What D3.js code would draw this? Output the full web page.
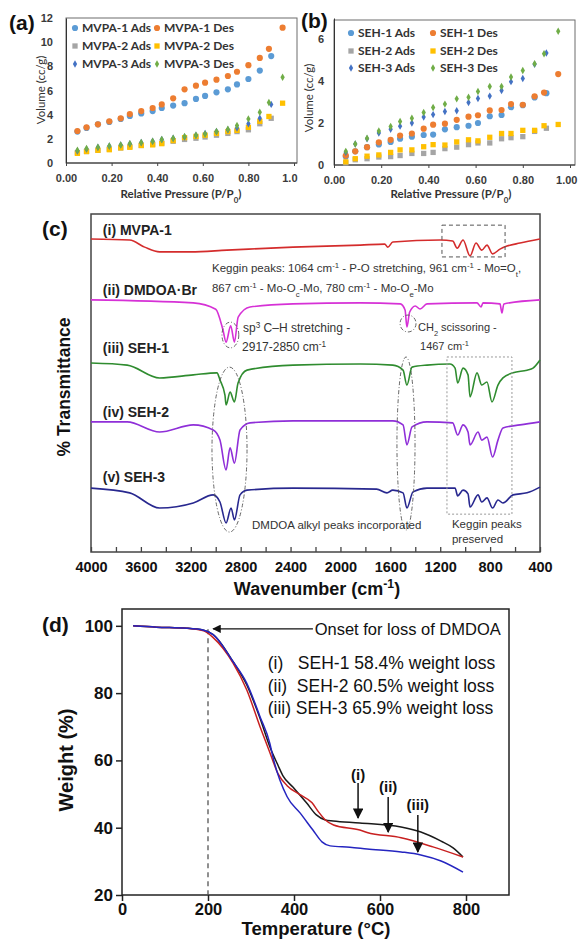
<!DOCTYPE html>
<html>
<head>
<meta charset="utf-8">
<script src="https://cdn.jsdelivr.net/npm/d3@7"></script>
<style>
body { margin: 0; background: #fff; }
svg { display: block; }
</style>
</head>
<body>
<script>
const width = 578;
const height = 940;

// ---------- (a) / (b) N2 isotherms : relative pressure vs volume (cc/g)
const adsPressure = [0.05,0.09,0.14,0.19,0.24,0.28,0.33,0.38,0.42,0.47,0.52,0.57,0.61,0.66,0.71,0.75,0.80,0.85,0.90];
const desPressure = [0.05,0.09,0.14,0.19,0.24,0.28,0.33,0.38,0.42,0.47,0.52,0.57,0.61,0.66,0.71,0.75,0.80,0.85,0.89,0.95];

const mvpa1Ads = [2.6,2.9,3.2,3.4,3.65,3.9,4.1,4.3,4.55,4.75,4.95,5.3,5.55,5.85,6.1,6.5,6.95,7.65,8.85];
const mvpa1Des = [2.65,2.95,3.2,3.45,3.7,4.05,4.3,4.55,4.85,5.35,6.1,6.4,6.65,6.9,7.2,7.55,8.1,8.7,9.45,11.2];
const mvpa2Ads = [0.85,0.95,1.05,1.15,1.25,1.35,1.45,1.55,1.65,1.8,1.95,2.05,2.15,2.3,2.45,2.6,2.75,3.25,3.7];
const mvpa2Des = [0.8,0.95,1.05,1.1,1.25,1.3,1.45,1.5,1.6,1.85,2.1,2.2,2.3,2.45,2.6,2.7,2.95,3.45,3.85,4.95];
const mvpa3Ads = [1.0,1.15,1.3,1.4,1.5,1.6,1.7,1.8,1.95,2.05,2.15,2.3,2.45,2.6,2.75,2.9,3.25,3.7,4.85];
const mvpa3Des = [1.05,1.2,1.3,1.4,1.5,1.6,1.7,1.8,1.95,2.05,2.2,2.3,2.4,2.6,2.8,3.1,3.65,4.2,5.0,7.1];

const seh1Ads = [0.4,0.65,0.85,0.98,1.1,1.25,1.35,1.43,1.45,1.7,1.8,1.87,2.0,2.32,2.38,2.75,2.85,3.22,3.42];
const seh1Des = [0.45,0.65,0.85,1.08,1.2,1.4,1.5,1.73,1.92,1.97,2.15,2.3,2.37,2.6,2.62,2.9,2.87,3.27,3.45,4.33];
const seh2Ads = [0.1,0.25,0.3,0.38,0.4,0.45,0.55,0.55,0.6,0.78,0.85,0.97,1.05,1.05,1.25,1.3,1.35,1.6,1.75];
const seh2Des = [0.15,0.3,0.42,0.48,0.6,0.72,0.72,0.87,0.97,0.95,1.1,1.2,1.15,1.32,1.5,1.5,1.65,1.65,1.87,1.93];
const seh3Ads = [0.6,1.0,1.25,1.52,1.7,1.85,2.0,2.28,2.4,2.55,2.58,2.98,3.17,3.28,3.55,3.97,4.12,4.8,5.33];
const seh3Des = [0.65,1.0,1.27,1.62,1.83,2.07,2.23,2.5,2.74,2.9,3.15,3.23,3.5,3.74,3.74,4.19,4.5,4.82,5.3,6.37];

const mvpaNames = ["MVPA-1 Ads","MVPA-1 Des","MVPA-2 Ads","MVPA-2 Des","MVPA-3 Ads","MVPA-3 Des"];
const sehNames = ["SEH-1 Ads","SEH-1 Des","SEH-2 Ads","SEH-2 Des","SEH-3 Ads","SEH-3 Des"];

const isoXTicks = [0,0.2,0.4,0.6,0.8,1.0];
const aXTickLabels = ["0.00","0.20","0.40","0.60","0.80","1.0"];
const bXTickLabels = ["0.00","0.20","0.40","0.60","0.80","1.00"];
const aYTicks = [0,2,4,6,8,10,12];
const bYTicks = [0,2,4,6];

// ---------- (c) FTIR spectra : [wavenumber, offset transmittance]
const irMvpa1 = [[4000,92.6],[3690,92.3],[3570,90.2],[3450,88.8],[3200,88.8],[2910,89.3],[2380,90.2],[1840,90.8],[1645,91.1],[1620,90.2],[1580,91.7],[1200,92.3],[1100,92.0],[1064,89.9],[1017,92.3],[961,87.6],[913,91.4],[867,89.3],[825,90.8],[780,88.2],[721,89.6],[665,90.5],[560,91.4],[400,92.6]];
const irDmdoa = [[4000,74.6],[3180,73.7],[3000,71.8],[2942,65.7],[2917,62.1],[2880,66.9],[2850,62.1],[2820,69.5],[2725,72.5],[2380,73.4],[1840,73.7],[1520,73.4],[1482,71.6],[1467,66.6],[1445,71.0],[1400,72.8],[1362,71.9],[1306,73.4],[905,73.7],[873,72.5],[857,73.7],[721,73.4],[705,70.7],[690,73.4],[400,74.6]];
const irSeh1 = [[4000,55.9],[3710,55.3],[3450,51.5],[3180,52.4],[2990,53.0],[2966,50.9],[2926,46.4],[2917,43.5],[2885,47.3],[2850,44.4],[2821,50.0],[2749,53.8],[2380,55.3],[1840,55.6],[1580,55.3],[1498,53.8],[1467,49.4],[1426,54.7],[1306,55.3],[1122,55.6],[1081,54.4],[1060,50.0],[1017,54.4],[977,52.4],[961,45.9],[905,53.0],[867,49.4],[825,50.3],[785,44.4],[737,49.4],[697,51.5],[616,53.0],[504,53.8],[456,54.4],[400,56.8]];
const irSeh2 = [[4000,38.5],[3710,38.5],[3450,35.5],[3180,37.6],[3020,36.1],[2966,33.1],[2917,24.3],[2885,30.8],[2850,26.3],[2805,36.1],[2725,38.2],[2380,38.8],[1580,38.8],[1498,37.6],[1467,31.7],[1426,37.0],[1306,38.5],[1100,38.2],[1060,34.6],[1017,37.6],[977,35.5],[961,31.7],[897,35.5],[867,33.1],[825,34.0],[780,28.1],[737,33.1],[697,36.7],[560,37.6],[400,38.5]];
const irSeh3 = [[4000,18.9],[3690,17.5],[3450,13.0],[3180,14.5],[3020,16.9],[2966,14.8],[2917,8.6],[2877,13.0],[2850,9.5],[2805,16.9],[2749,18.3],[2380,18.9],[1710,18.6],[1627,17.5],[1580,18.3],[1498,17.5],[1467,13.0],[1418,17.8],[1306,18.9],[1081,18.9],[1060,16.6],[1017,18.3],[977,17.2],[961,13.3],[897,16.9],[867,14.8],[825,16.0],[780,13.0],[737,15.4],[697,14.5],[616,16.9],[504,17.5],[400,19.2]];
const irLabels = ["(i) MVPA-1","(ii) DMDOA\u00B7Br","(iii) SEH-1","(iv) SEH-2","(v) SEH-3"];
const irMajorTicks = [4000,3600,3200,2800,2400,2000,1600,1200,800,400];
const irMinorTicks = [3800,3400,3000,2600,2200,1800,1400,1000,600];

// ---------- (d) TGA : [temperature C, weight %]
const tgaSeh1 = [[26,100],[80,99.6],[150,99.3],[190,98.7],[212,97.4],[258,89.4],[290,82.5],[321,72.5],[344,64],[363,58.5],[374,55.5],[398,52],[429,47.4],[452,43.8],[473,42.3],[491,42],[553,41.4],[649,40.2],[695,38.7],[742,36],[770,34],[793,31.3]];
const tgaSeh2 = [[26,100],[80,99.6],[150,99.3],[190,98.5],[212,96.5],[258,89],[290,81],[321,70],[344,62.3],[363,56],[384,52.5],[414,49.8],[442,47.4],[457,44.7],[473,42.3],[492,40.8],[553,39.3],[570,38.6],[649,37],[723,34.3],[793,31.3]];
const tgaSeh3 = [[26,100],[80,99.6],[150,99.3],[190,98.7],[212,97.4],[258,89.4],[290,83],[321,73],[344,65],[351,61],[384,49.2],[414,44.4],[444,39.3],[465,35.8],[484,34.6],[530,34.2],[570,33.7],[649,32.8],[695,31.9],[742,30.1],[793,26.8]];
const tgaXTicks = [0,200,400,600,800];
const tgaYTicks = [20,40,60,80,100];
const tgaLegend = [["(i)","SEH-1 58.4% weight loss"],["(ii)","SEH-2 60.5% weight loss"],["(iii)","SEH-3 65.9% weight loss"]];

const svg = d3.select("body").append("svg")
  .attr("width", width)
  .attr("height", height)
  .style("font-family", "'Liberation Sans', Arial, sans-serif");

// text with super / subscripts: parts = [[text, "sup"|"sub"|undefined], ...]
function richText(sel, parts) {
  parts.forEach(p => {
    const t = sel.append("tspan").text(p[0]);
    if (p[1] == "sup") t.attr("baseline-shift", "super").attr("font-size", "68%");
    if (p[1] == "sub") t.attr("baseline-shift", "sub").attr("font-size", "68%");
  });
  return sel;
}

function panelLabel(txt, x, y) {
  svg.append("text").attr("x", x).attr("y", y)
    .attr("font-size", 21).attr("font-weight", "bold").attr("fill", "#111").text(txt);
}

// ===================== isotherm panels
function drawIsotherm(o) {
  const g = svg.append("g").style("font-family", "Lato, 'Open Sans', sans-serif");
  const x = d3.scaleLinear().domain([0, 1]).range([o.left, o.xEnd]);
  const y = d3.scaleLinear().domain([0, o.yMax]).range([o.bottom, o.yTop]);

  g.append("rect")
    .attr("x", o.left).attr("y", o.top)
    .attr("width", o.right - o.left).attr("height", o.bottom - o.top)
    .attr("fill", "none").attr("stroke", "#6d6d6d").attr("stroke-width", 1);

  const yAx = g.append("g").attr("transform", `translate(${o.left},0)`)
    .call(d3.axisLeft(y).tickValues(o.yTicks).tickSize(0).tickPadding(o.yPad).tickFormat(d3.format("d")));
  yAx.select(".domain").attr("stroke", "#333");
  yAx.selectAll("text").attr("font-size", 11).attr("font-weight", "bold").attr("fill", "#3a3a3a");

  const xAx = g.append("g").attr("transform", `translate(0,${o.bottom})`)
    .call(d3.axisBottom(x).tickValues(isoXTicks).tickSizeInner(3).tickSizeOuter(0).tickPadding(8)
      .tickFormat((d, i) => o.xLabels[i]));
  xAx.select(".domain").attr("stroke", "#333").attr("d", `M${o.left},0H${o.right}`);
  xAx.selectAll("line").attr("stroke", "#444");
  xAx.selectAll("text").attr("font-size", 11).attr("font-weight", "bold").attr("fill", "#3a3a3a");
  xAx.selectAll("text").filter((d, i) => i == isoXTicks.length - 1).attr("text-anchor", "end").attr("dx", o.lastDx);

  o.series.forEach(s => {
    g.append("g").selectAll("path")
      .data(d3.zip(s.p, s.v))
      .join("path")
        .attr("d", d3.symbol(s.shape, s.size))
        .attr("transform", d => `translate(${x(d[0])},${y(d[1])})`)
        .attr("fill", s.color);
  });

  // legend, two columns
  o.series.forEach((s, i) => {
    const lx = o.legendX[i % 2];
    const ly = o.legendY[Math.floor(i / 2)];
    g.append("path").attr("d", d3.symbol(s.shape, s.size)).attr("transform", `translate(${lx},${ly})`).attr("fill", s.color);
    g.append("text").attr("x", lx + 7).attr("y", ly).attr("dy", "0.35em")
      .attr("font-size", 12).attr("font-weight", "bold").attr("fill", "#333").text(o.names[i]);
  });

  g.append("text")
    .attr("transform", `translate(${o.yTitleX},${o.yTitleY}) rotate(-90)`)
    .attr("text-anchor", "middle").attr("font-size", 11.5).attr("fill", "#333")
    .text("Volume (cc/g)");

  const xt = g.append("text").attr("x", o.xTitleX).attr("y", 198)
    .attr("text-anchor", "middle").attr("font-size", 11.5).attr("font-weight", "bold").attr("fill", "#333");
  richText(xt, [["Relative Pressure (P/P"], ["0", "sub"], [")"]]);
}

const circle = d3.symbolCircle, square = d3.symbolSquare, diamond = d3.symbolDiamond;
const isoColors = ["#5b9bd5","#ed7d31","#a5a5a5","#ffc000","#4472c4","#70ad47"];
const isoShapes = [[circle, 30],[circle, 30],[square, 28],[square, 28],[diamond, 16],[diamond, 16]];

function isoSeries(ads1, des1, ads2, des2, ads3, des3) {
  const vals = [ads1, des1, ads2, des2, ads3, des3];
  return vals.map((v, i) => ({
    p: i % 2 == 0 ? adsPressure : desPressure,
    v: v, color: isoColors[i], shape: isoShapes[i][0], size: isoShapes[i][1]
  }));
}

drawIsotherm({
  left: 66, right: 297, xEnd: 294, top: 18, yTop: 18, bottom: 163, yMax: 12,
  yTicks: aYTicks, yPad: 13, xLabels: aXTickLabels, lastDx: 3,
  series: isoSeries(mvpa1Ads, mvpa1Des, mvpa2Ads, mvpa2Des, mvpa3Ads, mvpa3Des),
  names: mvpaNames, legendX: [75, 157], legendY: [28, 46, 64],
  yTitleX: 45, yTitleY: 90, xTitleX: 181
});
drawIsotherm({
  left: 334, right: 575, xEnd: 570, top: 20, yTop: 18, bottom: 165, yMax: 7,
  yTicks: bYTicks, yPad: 10, xLabels: bXTickLabels, lastDx: 7,
  series: isoSeries(seh1Ads, seh1Des, seh2Ads, seh2Des, seh3Ads, seh3Des),
  names: sehNames, legendX: [351, 433], legendY: [33, 51, 68],
  yTitleX: 313, yTitleY: 98, xTitleX: 451
});
panelLabel("(a)", 9, 30);
panelLabel("(b)", 301, 28);

// ===================== (c) FTIR
const xc = d3.scaleLinear().domain([4000, 400]).range([91, 540]);
const yc = d3.scaleLinear().domain([0, 100]).range([552, 214]);
const gc = svg.append("g");

gc.append("rect").attr("x", 91).attr("y", 214).attr("width", 449).attr("height", 338)
  .attr("fill", "none").attr("stroke", "#444").attr("stroke-width", 1.5);

const xcAx = gc.append("g").attr("transform", "translate(0,552)")
  .call(d3.axisBottom(xc).tickValues(irMajorTicks.concat(irMinorTicks))
    .tickSizeInner(-5).tickSizeOuter(0).tickPadding(10)
    .tickFormat(d => irMajorTicks.includes(d) ? d : ""));
xcAx.select(".domain").remove();
xcAx.selectAll("line").attr("stroke", "#444").attr("stroke-width", 1.3);
xcAx.selectAll("text").attr("font-size", 14.5).attr("font-weight", "bold").attr("fill", "#111")
  .attr("font-family", "'Liberation Sans', Arial, sans-serif");

const irLine = d3.line().x(d => xc(d[0])).y(d => yc(d[1])).curve(d3.curveMonotoneX);
const irSeries = [irMvpa1, irDmdoa, irSeh1, irSeh2, irSeh3];
const irColors = ["#d42c2c", "#d631d6", "#2f8c2f", "#8f2fd8", "#28288f"];
gc.append("g").selectAll("path")
  .data(irSeries)
  .join("path")
    .attr("d", irLine)
    .attr("fill", "none")
    .attr("stroke", (d, i) => irColors[i])
    .attr("stroke-width", 1.6);

const irLabelLevel = [93.8, 76.0, 58.9, 39.9, 20.7];
gc.append("g").selectAll("text")
  .data(irLabels)
  .join("text")
    .attr("x", xc(3905))
    .attr("y", (d, i) => yc(irLabelLevel[i]))
    .attr("font-size", 14).attr("font-weight", "bold").attr("fill", "#222")
    .text(d => d);

// annotation boxes and ellipses (wavenumber / transmittance bounds)
function annRect(w1, w2, v1, v2, dash, color) {
  gc.append("rect")
    .attr("x", xc(w1)).attr("y", yc(v1))
    .attr("width", xc(w2) - xc(w1)).attr("height", yc(v2) - yc(v1))
    .attr("fill", "none").attr("stroke", color).attr("stroke-width", 1).attr("stroke-dasharray", dash);
}
function annEllipse(w1, w2, v1, v2) {
  gc.append("ellipse")
    .attr("cx", (xc(w1) + xc(w2)) / 2).attr("cy", (yc(v1) + yc(v2)) / 2)
    .attr("rx", Math.abs(xc(w2) - xc(w1)) / 2).attr("ry", Math.abs(yc(v2) - yc(v1)) / 2)
    .attr("fill", "none").attr("stroke", "#555").attr("stroke-width", 0.9).attr("stroke-dasharray", "4,2,1,2");
}
annRect(1186, 680, 96.7, 87.3, "4,3", "#555");
annRect(1146, 625, 57.7, 11.2, "2,2", "#999");
annEllipse(2950, 2815, 68.0, 60.4);
annEllipse(1522, 1394, 70.1, 65.1);
annEllipse(3030, 2749, 54.7, 5.9);
annEllipse(1547, 1402, 57.7, 6.5);

function annText(w, v, parts, size) {
  const t = gc.append("text").attr("x", xc(w)).attr("y", yc(v))
    .attr("font-size", size || 11.5).attr("fill", "#333");
  return richText(t, parts);
}
annText(3030, 82.8, [["Keggin peaks: 1064 cm"], ["-1", "sup"], [" - P-O stretching, 961 cm"], ["-1", "sup"], [" - Mo=O"], ["t", "sub"], [","]]);
annText(3030, 76.9, [["867 cm"], ["-1", "sup"], [" - Mo-O"], ["c", "sub"], ["-Mo, 780 cm"], ["-1", "sup"], [" - Mo-O"], ["e", "sub"], ["-Mo"]]);
annText(2781, 65.1, [["sp"], ["3", "sup"], [" C\u2013H stretching -"]], 12);
annText(2789, 59.5, [["2917-2850 cm"], ["-1", "sup"]], 12);
annText(1378, 65.4, [["CH"], ["2", "sub"], [" scissoring -"]], 11);
annText(1362, 59.8, [["1467 cm"], ["-1", "sup"]], 11);
annText(2709, 6.8, [["DMDOA alkyl peaks incorporated"]], 11.5);
annText(1106, 7.1, [["Keggin peaks"]], 11.5);
annText(1106, 2.7, [["preserved"]], 11.5);

svg.append("text")
  .attr("transform", "translate(70,387) rotate(-90)")
  .attr("text-anchor", "middle").attr("font-size", 17.5).attr("font-weight", "bold").attr("fill", "#111")
  .text("% Transmittance");
richText(svg.append("text").attr("x", 317).attr("y", 595).attr("text-anchor", "middle")
  .attr("font-size", 18).attr("font-weight", "bold").attr("fill", "#111"),
  [["Wavenumber (cm"], ["-1", "sup"], [")"]]);
panelLabel("(c)", 42, 236);

// ===================== (d) TGA
const xd = d3.scaleLinear().domain([0, 900]).range([122, 509]);
const yd = d3.scaleLinear().domain([20, 105]).range([895, 609]);
const gd = svg.append("g");

gd.append("rect").attr("x", 122).attr("y", 609).attr("width", 387).attr("height", 286)
  .attr("fill", "none").attr("stroke", "#222").attr("stroke-width", 1.5);

const ydAx = gd.append("g").attr("transform", "translate(122,0)")
  .call(d3.axisLeft(yd).tickValues(tgaYTicks).tickSizeInner(6).tickSizeOuter(0).tickPadding(3));
const xdAx = gd.append("g").attr("transform", "translate(0,895)")
  .call(d3.axisBottom(xd).tickValues(tgaXTicks).tickSizeInner(6).tickSizeOuter(0).tickPadding(2));
[ydAx, xdAx].forEach(a => {
  a.select(".domain").remove();
  a.selectAll("line").attr("stroke", "#222").attr("stroke-width", 1.5);
  a.selectAll("text").attr("font-size", 17).attr("font-weight", "bold").attr("fill", "#111")
    .attr("font-family", "'Liberation Sans', Arial, sans-serif");
});
xdAx.selectAll("text").attr("font-size", 16.5);

gd.append("line")
  .attr("x1", xd(200)).attr("x2", xd(200)).attr("y1", yd(99)).attr("y2", yd(20))
  .attr("stroke", "#555").attr("stroke-width", 1.3).attr("stroke-dasharray", "5,4");

const tgaLine = d3.line().x(d => xd(d[0])).y(d => yd(d[1])).curve(d3.curveMonotoneX);
const tgaSeries = [tgaSeh1, tgaSeh2, tgaSeh3];
const tgaColors = ["#1a1a1a", "#c82020", "#2525c0"];
gd.append("g").selectAll("path")
  .data(tgaSeries)
  .join("path")
    .attr("d", tgaLine)
    .attr("fill", "none")
    .attr("stroke", (d, i) => tgaColors[i])
    .attr("stroke-width", 1.5);

svg.append("defs").append("marker")
  .attr("id", "arrow").attr("viewBox", "0 0 10 10").attr("refX", 9).attr("refY", 5)
  .attr("markerWidth", 7).attr("markerHeight", 7).attr("orient", "auto-start-reverse")
  .append("path").attr("d", "M0,0L10,5L0,10z").attr("fill", "#111");

gd.append("line")
  .attr("x1", xd(444)).attr("x2", xd(212)).attr("y1", yd(99.1)).attr("y2", yd(99.1))
  .attr("stroke", "#111").attr("stroke-width", 1.2).attr("marker-end", "url(#arrow)");
gd.append("text").attr("x", xd(448)).attr("y", yd(99.1)).attr("dy", "0.36em")
  .attr("font-size", 16.5).attr("fill", "#111").text("Onset for loss of DMDOA");

const legendLevel = [87.2, 80.3, 73.8];
tgaLegend.forEach((row, i) => {
  gd.append("text").attr("x", xd(339)).attr("y", yd(legendLevel[i]))
    .attr("font-size", 17.5).attr("fill", "#111").text(row[0]);
  gd.append("text").attr("x", xd(409) - i).attr("y", yd(legendLevel[i]))
    .attr("font-size", 17.5).attr("fill", "#111").text(row[1]);
});

// arrows pointing at the plateaus
const plateauArrows = [["(i)", 549, 55.7, 53.3, 42.9], ["(ii)", 619, 52.1, 49.1, 38.7], ["(iii)", 688, 46.7, 43.8, 32.8]];
plateauArrows.forEach(a => {
  gd.append("text").attr("x", xd(a[1])).attr("y", yd(a[2])).attr("dy", "0.35em")
    .attr("text-anchor", "middle").attr("font-size", 15).attr("font-weight", "bold").attr("fill", "#111").text(a[0]);
  gd.append("line").attr("x1", xd(a[1])).attr("x2", xd(a[1])).attr("y1", yd(a[3])).attr("y2", yd(a[4]))
    .attr("stroke", "#111").attr("stroke-width", 1.5).attr("marker-end", "url(#arrow)");
});

svg.append("text")
  .attr("transform", "translate(73,760) rotate(-90)")
  .attr("text-anchor", "middle").attr("font-size", 20).attr("font-weight", "bold").attr("fill", "#111")
  .text("Weight (%)");
svg.append("text").attr("x", 316).attr("y", 935).attr("text-anchor", "middle")
  .attr("font-size", 18.5).attr("font-weight", "bold").attr("fill", "#111")
  .text("Temperature (\u00B0C)");
panelLabel("(d)", 42, 632);
</script>
</body>
</html>
